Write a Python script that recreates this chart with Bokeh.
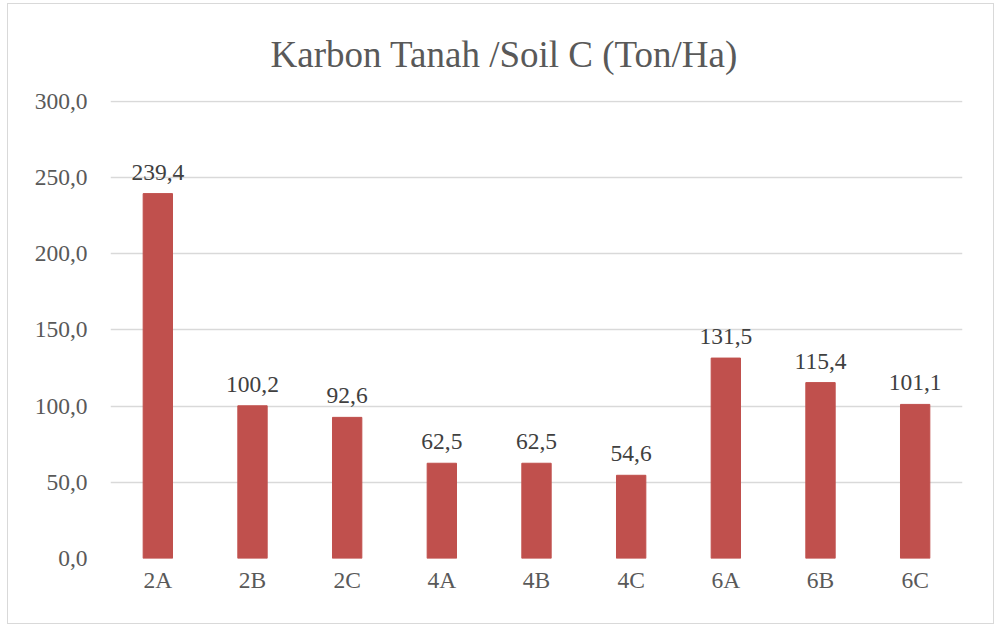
from bokeh.plotting import figure
from bokeh.models import ColumnDataSource, Range1d, CustomJSTickFormatter, FixedTicker
from bokeh.core.properties import value
from bokeh.embed import file_html
from bokeh.resources import INLINE

categories = ["2A", "2B", "2C", "4A", "4B", "4C", "6A", "6B", "6C"]
soil_c = [239.4, 100.2, 92.6, 62.5, 62.5, 54.6, 131.5, 115.4, 101.1]
y_ticks = [0, 50, 100, 150, 200, 250, 300]

labels = [f"{v:.1f}".replace(".", ",") for v in soil_c]
src = ColumnDataSource(dict(cat=categories, val=soil_c, lab=labels))

FONT = "Liberation Serif"

p = figure(x_range=categories, y_range=Range1d(0, 300.5), width=987, height=621,
           output_backend="svg", toolbar_location=None,
           min_border_left=102, min_border_right=33, min_border_top=96, min_border_bottom=67)
p.title.text = "Karbon Tanah /Soil C (Ton/Ha)"
p.title.align = "left"
p.title.offset = 160
p.title.text_font = FONT
p.title.text_font_size = "37px"
p.title.text_font_style = "normal"
p.title.text_color = "#595959"
p.title.standoff = 52

p.vbar(x="cat", top="val", width=0.31, source=src, color="#C0504D")
p.text(x="cat", y="val", text="lab", source=src, text_align="center",
       text_baseline="bottom", y_offset=-14, text_font=value(FONT),
       text_font_size="23.5px", text_color="#404040")

p.outline_line_color = None
p.xgrid.grid_line_color = None
p.ygrid.grid_line_color = "#D9D9D9"
p.ygrid.grid_line_width = 1.5
p.yaxis.ticker = FixedTicker(ticks=y_ticks)
p.yaxis.formatter = CustomJSTickFormatter(code="return tick.toFixed(1).replace('.', ',');")
for ax in (p.xaxis, p.yaxis):
    ax.axis_line_color = None
    ax.major_tick_line_color = None
    ax.minor_tick_line_color = None
    ax.major_label_text_font = FONT
    ax.major_label_text_font_size = "23.5px"
    ax.major_label_text_color = "#595959"
p.yaxis.major_label_standoff = 17
p.xaxis.major_label_standoff = 2
p.styles = {"border": "1.5px solid #D9D9D9", "margin-left": "7px", "margin-top": "3px"}

open("out.html", "w").write(file_html(p, INLINE))
